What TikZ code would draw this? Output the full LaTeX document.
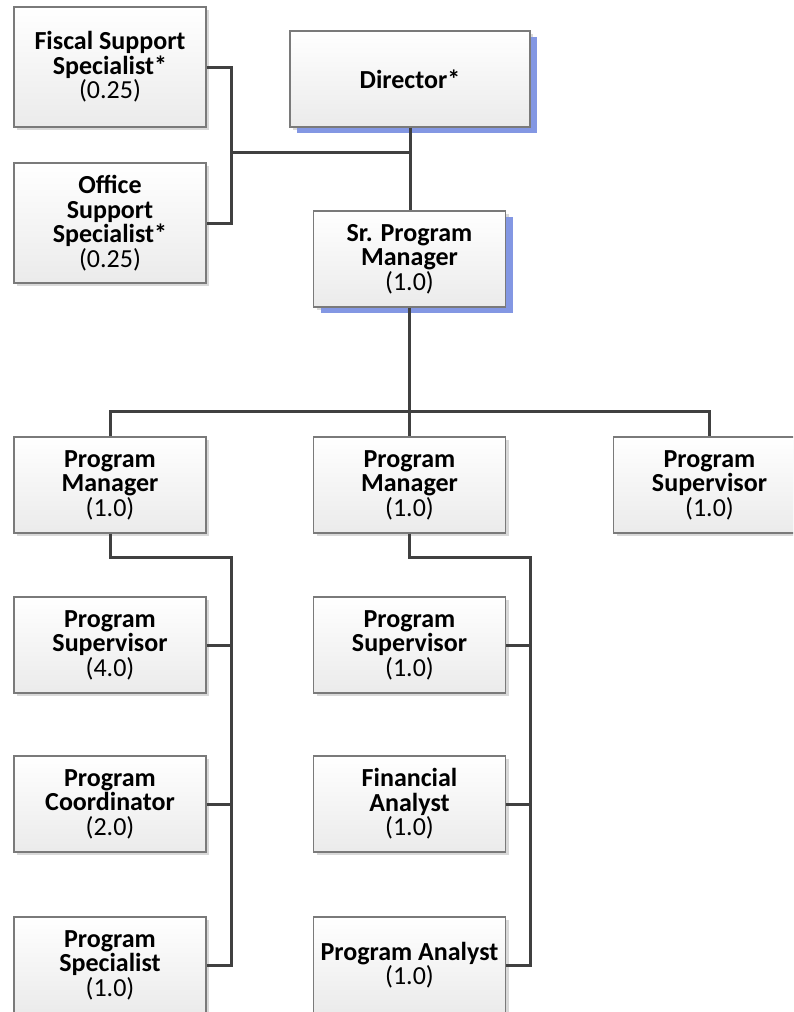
\documentclass[tikz,border=0pt]{standalone}
\usepackage{fontspec}
\setmainfont{Carlito}
\usetikzlibrary{shadows}
\definecolor{boxline}{HTML}{7A7A7A}
\definecolor{shadegray}{HTML}{D9D9D9}
\definecolor{shadeblue}{HTML}{8397E3}
\definecolor{wire}{HTML}{404040}
\begin{document}
\begin{tikzpicture}[x=1pt,y=-1pt,
  orgbox/.style={draw=boxline, line width=1.4pt, top color=white, bottom color=black!8,
    minimum width=192pt, minimum height=96pt, align=center, inner sep=2pt,
    font=\fontsize{26}{24.5}\selectfont,
    drop shadow={shadow xshift=3pt, shadow yshift=-3pt, fill=shadegray, opacity=1}},
  keybox/.style={orgbox,
    drop shadow={shadow xshift=7pt, shadow yshift=-6pt, fill=shadeblue, opacity=1}},
  wireline/.style={draw=wire, line width=3pt}]
\useasboundingbox (0,0) rectangle (793,1012);
\clip (0,0) rectangle (793,1012);
\fill[white] (0,0) rectangle (793,1012);

% top group
\node[orgbox, minimum height=120pt] (fiscal) at (110,67) {\textbf{Fiscal Support}\\\textbf{Specialist*}\\(0.25)};
\node[orgbox, minimum height=120pt] (office) at (110,223) {\textbf{Office}\\\textbf{Support}\\\textbf{Specialist*}\\(0.25)};
\node[keybox, minimum width=240pt] (director) at (410,79) {\textbf{Director*}};
\node[keybox] (srpm) at (409.5,259) {\textbf{Sr. Program}\\\textbf{Manager}\\(1.0)};

% managers row
\node[orgbox] (pmA) at (110,485) {\textbf{Program}\\\textbf{Manager}\\(1.0)};
\node[orgbox] (pmB) at (409.5,485) {\textbf{Program}\\\textbf{Manager}\\(1.0)};
\node[orgbox] (psC) at (709.5,485) {\textbf{Program}\\\textbf{Supervisor}\\(1.0)};

% left column
\node[orgbox] (psA) at (110,645) {\textbf{Program}\\\textbf{Supervisor}\\(4.0)};
\node[orgbox] (pcA) at (110,804) {\textbf{Program}\\\textbf{Coordinator}\\(2.0)};
\node[orgbox] (spA) at (110,965) {\textbf{Program}\\\textbf{Specialist}\\(1.0)};

% right column
\node[orgbox] (psB) at (409.5,645) {\textbf{Program}\\\textbf{Supervisor}\\(1.0)};
\node[orgbox] (faB) at (409.5,804) {\textbf{Financial}\\\textbf{Analyst}\\(1.0)};
\node[orgbox] (paB) at (409.5,965) {\textbf{Program Analyst}\\(1.0)};

% junction points
\coordinate (staffbus) at (231,152);
\coordinate (mgrbus) at (409.5,411);
\coordinate (spineA) at (231,557);
\coordinate (spineB) at (530,557);

% connectors
\draw[wireline] (fiscal.east) -| (office.east -| staffbus) -- (office.east);
\draw[wireline] (staffbus) -- (staffbus -| director.south);
\draw[wireline] (director.south) -- (director.south |- srpm.north);
\draw[wireline] (srpm.south) -- (mgrbus);
\draw[wireline] (pmA.north) |- (mgrbus) -| (psC.north);
\draw[wireline] (mgrbus) -- (pmB.north);

\draw[wireline] (pmA.south) |- (spineA) -- (spineA |- spA.east) -- (spA.east);
\draw[wireline] (psA.east) -- (psA.east -| spineA);
\draw[wireline] (pcA.east) -- (pcA.east -| spineA);

\draw[wireline] (pmB.south) |- (spineB) -- (spineB |- paB.east) -- (paB.east);
\draw[wireline] (psB.east) -- (psB.east -| spineB);
\draw[wireline] (faB.east) -- (faB.east -| spineB);
\end{tikzpicture}
\end{document}
